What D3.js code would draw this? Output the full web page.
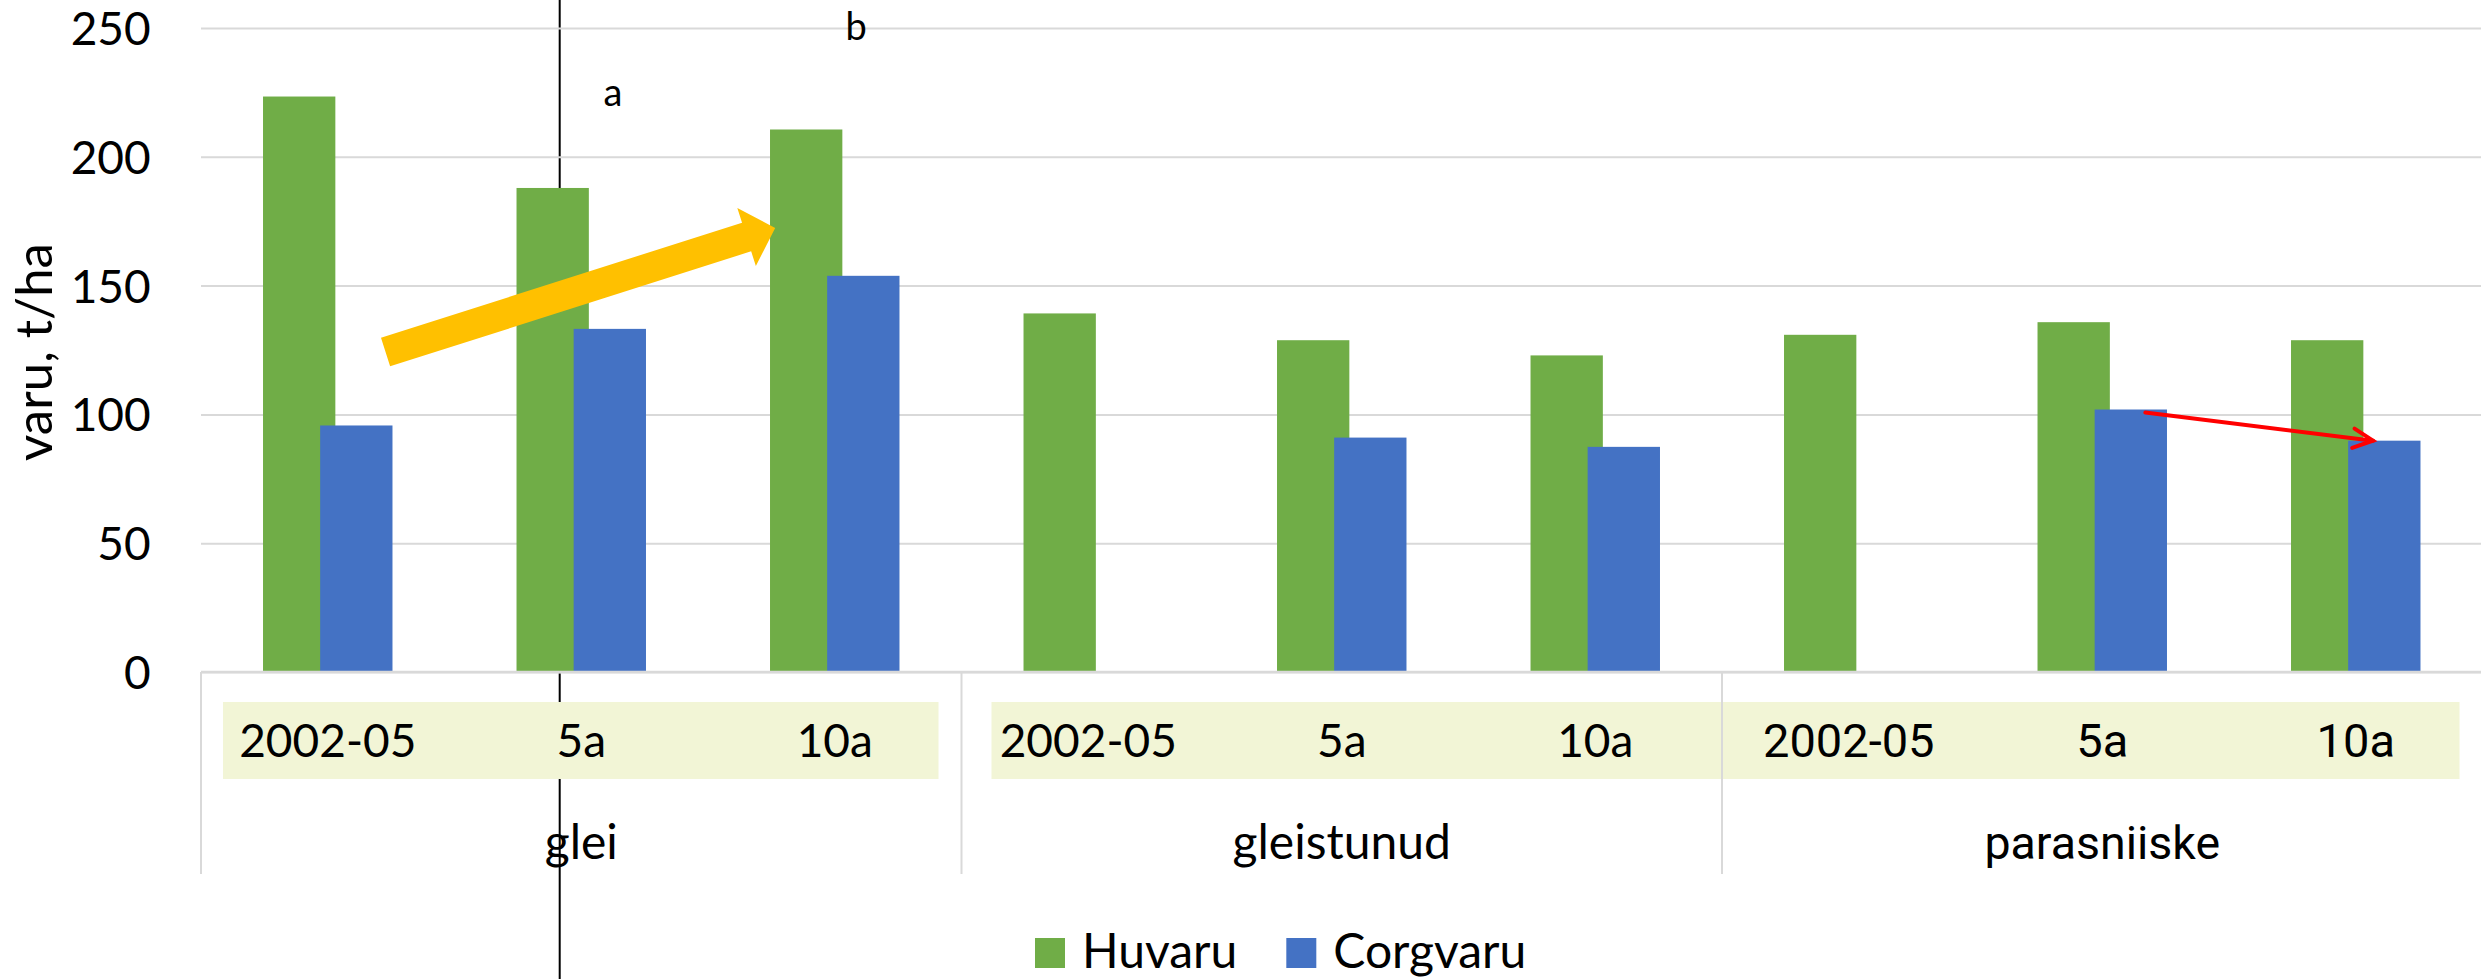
<!DOCTYPE html>
<html>
<head>
<meta charset="utf-8">
<script src="https://cdn.jsdelivr.net/npm/d3@7"></script>
<style>
  html, body { margin: 0; padding: 0; background: #fff; }
  svg { display: block; }
  text { fill: #000; }
</style>
</head>
<body>
<svg id="chart" width="2481" height="979"></svg>
<script>
// ---------- data ----------
const groups = ["glei", "gleistunud", "parasniiske"];
const periods = ["2002-05", "5a", "10a"];
const seriesNames = ["Huvaru", "Corgvaru"];
const huvaru   = [223.4, 187.9, 210.6, 139.2, 128.8, 122.9, 130.9, 135.8, 128.8];
const corgvaru = [95.7, 133.2, 153.8, null, 91.0, 87.4, null, 101.9, 89.8];
const yTicks = [0, 50, 100, 150, 200, 250];
const yTitle = "varu, t/ha";
// annotations in data space: slot index, offset within slot (fraction of step), value
const letters = [
  { text: "a", slot: 1, off: 0.125, value: 219.7 },
  { text: "b", slot: 2, off: 0.084, value: 245.3 }
];
const yellowArrow = { from: { slot: 0, off: 0.228, value: 124.2 }, to: { slot: 2, off: -0.235, value: 172.4 } };
const redArrow = { from: { slot: 7, off: 0.17, value: 100.7 }, to: { slot: 8, off: 0.068, value: 89.8 } };
const markerLine = { slot: 1, off: -0.085 };

// ---------- layout ----------
const W = 2481, H = 979;
const plotLeft = 201, plotRight = 2482.5, plotTop = 28, plotBottom = 672;
const colors = { Huvaru: "#70AD47", Corgvaru: "#4472C4" };
const grid = "#d9d9d9";
const FONT = "Lato, 'Noto Sans', sans-serif";
const FONT2 = "Roboto, sans-serif";

const cats = [];
groups.forEach(g => periods.forEach(p => cats.push(g + "|" + p)));

const x = d3.scaleBand().domain(cats).range([plotLeft, plotRight]).padding(0);
const y = d3.scaleLinear().domain([0, 250]).range([plotBottom, plotTop]);
const step = x.step();
const center = i => x(cats[i]) + step / 2;
const px = a => center(a.slot) + a.off * step;

const svg = d3.select("#chart");

const yAxis = d3.axisLeft(y).tickValues(yTicks).tickSize(-(plotRight - plotLeft)).tickPadding(50).tickFormat(d3.format("d"));

// black marker line (behind bars)
svg.append("line")
  .attr("x1", px(markerLine)).attr("x2", px(markerLine))
  .attr("y1", 0).attr("y2", H)
  .attr("stroke", "#000").attr("stroke-width", 2);

const gy = svg.append("g").attr("transform", `translate(${plotLeft},0)`).call(yAxis);
gy.select(".domain").remove();
gy.selectAll(".tick line").attr("stroke", grid).attr("stroke-width", 2);
gy.selectAll(".tick text")
  .attr("x", 150.7 - plotLeft)
  .attr("dy", "0.36em")
  .attr("font-size", 46)
  .attr("font-family", FONT)
  .attr("fill", "#000");

// y title
svg.append("text")
  .attr("transform", `translate(52,352) rotate(-90)`)
  .attr("text-anchor", "middle")
  .attr("font-family", FONT)
  .attr("font-size", 51)
  .text(yTitle);

// category band backgrounds
const bandSpans = [[0, 2], [3, 8]];
svg.append("g").selectAll("rect").data(bandSpans).join("rect")
  .attr("x", d => x(cats[d[0]]) + (d[0] === 0 ? 22 : 30))
  .attr("width", d => x(cats[d[1]]) + step - x(cats[d[0]]) - (d[0] === 0 ? 22 : 30) - 23)
  .attr("y", 702).attr("height", 77)
  .attr("fill", "#F2F5D6");

// group divider lines
const dividers = d3.range(groups.length + 1).map(i => plotLeft + i * 3 * step);
svg.append("g").selectAll("line").data(dividers).join("line")
  .attr("x1", d => d).attr("x2", d => d)
  .attr("y1", plotBottom).attr("y2", 874)
  .attr("stroke", grid).attr("stroke-width", 2);

// bars
const barW = step * 0.2853;
const shift = barW * 0.79;
const groupW = barW + shift;
const barsG = svg.append("g");
[huvaru, corgvaru].forEach((vals, si) => {
  barsG.append("g").selectAll("rect")
    .data(vals.map((v, i) => ({ v, i })).filter(d => d.v != null))
    .join("rect")
    .attr("x", d => center(d.i) - groupW / 2 + si * shift)
    .attr("width", barW)
    .attr("y", d => y(d.v))
    .attr("height", d => y(0) - y(d.v))
    .attr("fill", colors[seriesNames[si]]);
});

// baseline
svg.append("line")
  .attr("x1", plotLeft).attr("x2", plotRight)
  .attr("y1", y(0)).attr("y2", y(0))
  .attr("stroke", grid).attr("stroke-width", 2.5);

// category labels
svg.append("g").selectAll("text").data(cats).join("text")
  .attr("x", (d, i) => center(i))
  .attr("y", 757)
  .attr("text-anchor", "middle")
  .attr("font-family", (d, i) => i >= 6 ? FONT2 : FONT)
  .attr("font-size", (d, i) => i >= 6 ? 47 : 46)
  .text(d => d.split("|")[1]);

// group labels
svg.append("g").selectAll("text").data(groups).join("text")
  .attr("x", (d, i) => plotLeft + (i * 3 + 1.5) * step)
  .attr("y", 859)
  .attr("text-anchor", "middle")
  .attr("font-family", (d, i) => i === 2 ? FONT2 : FONT)
  .attr("font-size", (d, i) => i === 2 ? 46.5 : 48)
  .text(d => d);

// letters a, b
svg.append("g").selectAll("text").data(letters).join("text")
  .attr("x", d => px(d)).attr("y", d => y(d.value))
  .attr("text-anchor", "middle")
  .attr("font-family", FONT)
  .attr("font-size", 38)
  .text(d => d.text);

// yellow block arrow
{
  const x0 = px(yellowArrow.from), y0 = y(yellowArrow.from.value);
  const x1 = px(yellowArrow.to), y1 = y(yellowArrow.to.value);
  const L = Math.hypot(x1 - x0, y1 - y0);
  const ang = Math.atan2(y1 - y0, x1 - x0) * 180 / Math.PI;
  const hw = 15, hh = 30.5, hl = 30;
  const pts = [[0, -hw], [L - hl, -hw], [L - hl, -hh], [L, 0], [L - hl, hh], [L - hl, hw], [0, hw]];
  svg.append("polygon")
    .attr("points", pts.map(p => p.join(",")).join(" "))
    .attr("transform", `translate(${x0},${y0}) rotate(${ang})`)
    .attr("fill", "#FFC000");
}

// red thin arrow
{
  const x0 = px(redArrow.from), y0 = y(redArrow.from.value);
  const x1 = px(redArrow.to), y1 = y(redArrow.to.value);
  const a = Math.atan2(y1 - y0, x1 - x0);
  const bl = 22, ba = 26 * Math.PI / 180;
  const b1 = [x1 - bl * Math.cos(a - ba), y1 - bl * Math.sin(a - ba)];
  const b2 = [x1 - bl * Math.cos(a + ba), y1 - bl * Math.sin(a + ba)];
  const g = svg.append("g").attr("stroke", "#FF0000").attr("stroke-width", 4).attr("stroke-linecap", "round").attr("fill", "none");
  g.append("line").attr("x1", x0).attr("y1", y0).attr("x2", x1).attr("y2", y1);
  g.append("path").attr("d", `M${b1[0]},${b1[1]} L${x1},${y1} L${b2[0]},${b2[1]}`);
}

// legend
{
  const lg = svg.append("g");
  let cx = 1035;
  seriesNames.forEach(name => {
    lg.append("rect").attr("x", cx).attr("y", 938).attr("width", 30).attr("height", 30).attr("fill", colors[name]);
    const t = lg.append("text").attr("x", cx + 47).attr("y", 968)
      .attr("font-family", FONT).attr("font-size", 48).text(name);
    cx = cx + 47 + t.node().getComputedTextLength() + 49;
  });
}
</script>
</body>
</html>
